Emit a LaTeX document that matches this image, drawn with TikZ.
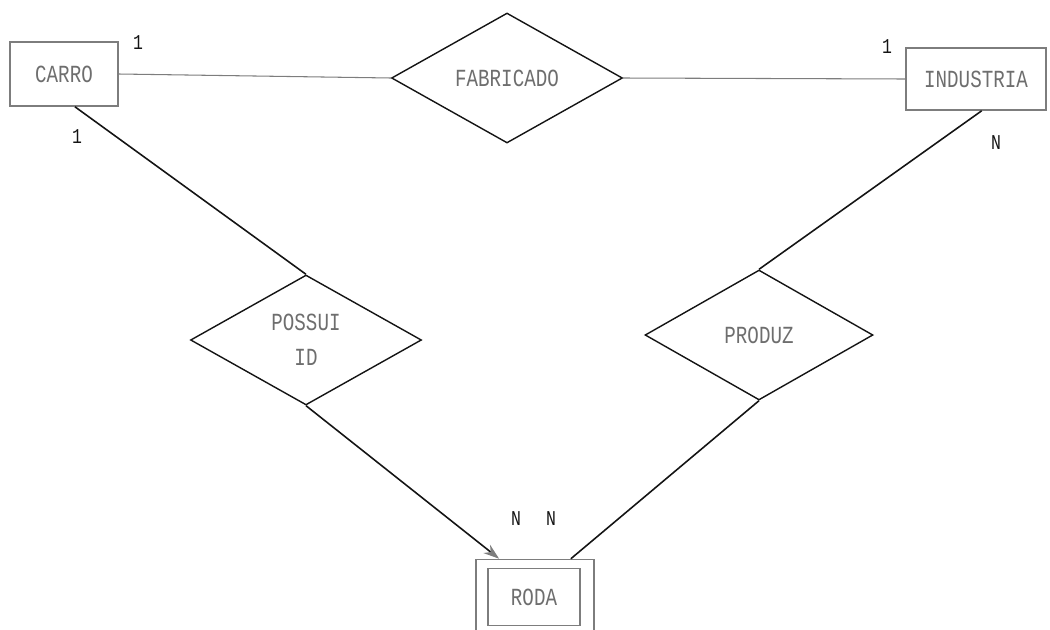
\documentclass[tikz,border=0pt]{standalone}
\usepackage{fontspec}
\newfontfamily\matriz[FakeStretch=0.78]{Liberation Mono}
\usetikzlibrary{arrows.meta,shapes.geometric,calc}
\definecolor{derInk}  {RGB}{20, 20, 20}
\definecolor{derGray} {RGB}{125,125,125}
\definecolor{derText} {RGB}{110,110,110}

\begin{document}
\begin{tikzpicture}[x=0.02cm,y=-0.02cm,
    entidade/.style={draw=derGray,line width=0.9pt,inner sep=0pt,
                     font=\matriz\fontsize{14}{16}\selectfont,text=derText},
    relac/.style={diamond,draw=derInk,line width=0.8pt,inner sep=0pt,
                  minimum width=4.62cm,minimum height=2.6cm,align=center,
                  font=\matriz\fontsize{14}{16}\selectfont,text=derText},
    card/.style={font=\matriz\fontsize{12}{13}\selectfont,text=derInk},
    ligacao/.style={derInk,line width=0.9pt},
    ligacaoh/.style={derGray,line width=0.6pt}]

    \useasboundingbox (0,0) rectangle (1050,629);

    % ── ENTIDADES ─────────────────────────────────────────
    \node[entidade,minimum width=2.16cm,minimum height=1.28cm] (carro) at (64,74){CARRO};
    \node[entidade,minimum width=2.8cm,minimum height=1.24cm] (industria) at (976,79){INDUSTRIA};

    % entidade fraca (caixa dupla)
    \node[entidade,minimum width=2.36cm,minimum height=1.42cm] (rodaout) at (535,595){};
    \node[entidade,minimum width=1.84cm,minimum height=1.14cm] (roda) at (534,597){RODA};

    % ── RELACIONAMENTOS ───────────────────────────────────
    \node[relac] (fabricado) at (507,78){FABRICADO};
    \node[relac] (possui) at (306,340){POSSUI\\[4pt]ID};
    \node[relac,minimum width=4.56cm] (produz) at (759,335){PRODUZ};

    % ── LIGAÇÕES ──────────────────────────────────────────
    \draw[ligacaoh] (carro.east) -- (fabricado.west);
    \draw[ligacaoh] (fabricado.east) -- (industria.west);

    \draw[ligacao] ($(carro.south west)!0.6!(carro.south east)$) -- (possui.north);
    \draw[ligacao,-{Stealth[length=9pt,width=6pt,color=derGray]}]
      (possui.south) -- ($(rodaout.north west)!0.2!(rodaout.north east)$);
    \draw[ligacao] ($(industria.south west)!0.54!(industria.south east)$) -- (produz.north);
    \draw[ligacao] (produz.south) -- ($(rodaout.north west)!0.8!(rodaout.north east)$);

    % ── CARDINALIDADES ────────────────────────────────────
    \node[card] (c1) at (138,43){1};
    \node[card] (c2) at (77,137){1};
    \node[card] (c3) at (887,47){1};
    \node[card] (c4) at (996,143){N};
    \node[card] (c5) at (516,519){N};
    \node[card] (c6) at (551,519){N};

\end{tikzpicture}
\end{document}
